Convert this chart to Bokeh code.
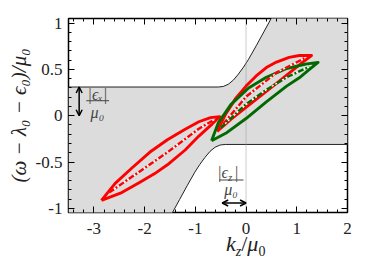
from bokeh.plotting import figure
from bokeh.models import Range1d, FixedTicker, LinearAxis, Label, Arrow, OpenHead, Div
from bokeh.layouts import column
from bokeh.embed import file_html
from bokeh.resources import INLINE

# ---------------- data ----------------
X_START, X_END = -3.5, 2.0
Y_START, Y_END = -1.045, 1.05

x_ticks = [-3, -2, -1, 0, 1, 2]
x_tick_labels = ["-3", "-2", "-1", "0", "1", "2"]
y_ticks = [-1, -0.5, 0, 0.5, 1]
y_tick_labels = ["-1", "-0.5", "0", "0.5", "1"]
x_minor = [round(-3.4 + 0.2 * i, 2) for i in range(28)]
y_minor = [round(-1.0 + 0.1 * i, 2) for i in range(21)]

# continuum boundaries
upper_k = [-3.5, -0.55, -0.45, -0.35, -0.25, -0.15, -0.05, 0.05, 0.2, 0.35, 0.5, 0.6]
upper_v = [0.31, 0.31, 0.316, 0.34, 0.385, 0.45, 0.525, 0.61, 0.755, 0.905, 1.055, 1.155]
lower_k = [-1.56, -1.46, -1.31, -1.16, -1.01, -0.91, -0.81, -0.71, -0.61, -0.51, -0.41, 2.0]
lower_v = [-1.155, -1.055, -0.905, -0.755, -0.61, -0.525, -0.45, -0.385, -0.34, -0.316, -0.31, -0.31]

# red loop A (lower left)
a_up_k = [-2.85, -2.58, -2.25, -1.9, -1.55, -1.2, -0.93, -0.7, -0.52]
a_up_v = [-0.915, -0.73, -0.565, -0.395, -0.26, -0.145, -0.065, -0.02, -0.01]
a_lo_k = [-2.85, -2.45, -2.1, -1.8, -1.55, -1.2, -0.93, -0.67, -0.52]
a_lo_v = [-0.915, -0.83, -0.72, -0.625, -0.53, -0.37, -0.22, -0.09, -0.01]
a_c_k = [-2.7, -2.25, -1.55, -0.93, -0.62]
a_c_v = [-0.83, -0.66, -0.395, -0.14, -0.04]

# red loop B (upper right)
b_up_k = [-0.57, -0.4, -0.2, 0.0, 0.2, 0.4, 0.6, 0.85, 1.05, 1.29]
b_up_v = [-0.17, 0.02, 0.19, 0.32, 0.43, 0.52, 0.58, 0.63, 0.65, 0.65]
b_lo_k = [-0.57, -0.3, 0.0, 0.3, 0.6, 0.85, 1.1, 1.29]
b_lo_v = [-0.17, -0.04, 0.09, 0.22, 0.35, 0.46, 0.57, 0.65]
b_c_k = [-0.45, 0.0, 0.6, 1.15]
b_c_v = [-0.09, 0.205, 0.465, 0.62]

# green loop
g_up_k = [-0.68, -0.55, -0.3, 0.05, 0.4, 0.8, 1.2, 1.42]
g_up_v = [-0.27, -0.08, 0.12, 0.3, 0.415, 0.51, 0.56, 0.575]
g_lo_k = [-0.68, -0.4, 0.0, 0.4, 0.8, 1.05, 1.25, 1.42]
g_lo_v = [-0.27, -0.19, -0.03, 0.15, 0.32, 0.41, 0.5, 0.575]
g_c_k = [-0.5, 0.0, 0.4, 0.8, 1.25]
g_c_v = [-0.13, 0.125, 0.28, 0.415, 0.53]

EPS_X = 0.31
EPS_Z_K = -0.47

RED = "#ff0000"
GREEN = "#006a00"
GREY_FILL = "#dcdcdc"
SERIF = "Liberation Serif"
TXT = "#222222"
ANN = "#444444"

# ---------------- figure ----------------
p = figure(width=366, height=242, x_range=Range1d(X_START, X_END),
           y_range=Range1d(Y_START, Y_END), output_backend="svg",
           toolbar_location=None, min_border_left=68, min_border_right=19,
           min_border_top=18, min_border_bottom=30)
p.grid.visible = False
p.outline_line_color = "black"
p.outline_line_width = 1.5

# shaded continuum
poly_x = upper_k + [X_END] + lower_k[::-1] + [X_START]
poly_y = upper_v + [upper_v[-1]] + lower_v[::-1] + [lower_v[0]]
p.patch(poly_x, poly_y, fill_color=GREY_FILL, line_color=None)
p.line(upper_k, upper_v, line_color="#222222", line_width=1)
p.line(lower_k, lower_v, line_color="#222222", line_width=1)

# dotted k=0 line
p.segment(x0=[0], y0=[Y_START], x1=[0], y1=[Y_END], line_color="#999999",
          line_dash="1 1", line_width=1)


def loop(up_k, up_v, lo_k, lo_v, color):
    xs = up_k + lo_k[::-1]
    ys = up_v + lo_v[::-1]
    p.line(xs, ys, line_color=color, line_width=2.9, line_join="round")


def center(ck, cv, color):
    p.line(ck, cv, line_color="white", line_width=1.3)
    p.line(ck, cv, line_color=color, line_width=2.4, line_dash="6 2 2 2")


loop(a_up_k, a_up_v, a_lo_k, a_lo_v, RED)
loop(b_up_k, b_up_v, b_lo_k, b_lo_v, RED)
loop(g_up_k, g_up_v, g_lo_k, g_lo_v, GREEN)
center(a_c_k, a_c_v, RED)
center(b_c_k, b_c_v, RED)
center(g_c_k, g_c_v, GREEN)


# ---------------- axes ----------------
def style(ax, ticks, minor, labels, show):
    ax.ticker = FixedTicker(ticks=ticks, minor_ticks=minor)
    ax.major_tick_in = 6
    ax.major_tick_out = 0
    ax.minor_tick_in = 3
    ax.minor_tick_out = 0
    ax.axis_line_color = None
    ax.major_tick_line_color = "black"
    ax.minor_tick_line_color = "black"
    if show:
        ax.major_label_overrides = {t: l for t, l in zip(ticks, labels)}
        ax.major_label_text_font = SERIF
        ax.major_label_text_font_size = "17px"
        ax.major_label_text_color = TXT
    else:
        ax.major_label_overrides = {t: "" for t in ticks}
        ax.major_label_standoff = 0


style(p.xaxis[0], x_ticks, x_minor, x_tick_labels, True)
style(p.yaxis[0], y_ticks, y_minor, y_tick_labels, True)
p.xaxis[0].major_label_standoff = 10
p.yaxis[0].major_label_standoff = 6
top = LinearAxis()
right = LinearAxis()
p.add_layout(top, "above")
p.add_layout(right, "right")
style(top, x_ticks, x_minor, x_tick_labels, False)
style(right, y_ticks, y_minor, y_tick_labels, False)

# y-axis title
p.yaxis[0].axis_label = "(ω − λ₀ − ϵ₀)/μ₀"
p.yaxis[0].axis_label_text_font = SERIF
p.yaxis[0].axis_label_text_font_style = "italic"
p.yaxis[0].axis_label_text_font_size = "21px"
p.yaxis[0].axis_label_text_color = TXT
p.yaxis[0].axis_label_standoff = 2

# annotations: |eps_x|/mu0
p.add_layout(Label(x=-2.93, y=0.234, text="|ϵₓ|", text_font=SERIF,
                   text_font_style="italic", text_font_size="16px", text_align="center",
                   text_baseline="middle", text_color=ANN))
p.segment(x0=[-3.15], y0=[0.162], x1=[-2.70], y1=[0.162], line_color=ANN, line_width=1)
p.add_layout(Label(x=-2.93, y=0.037, text="μ₀", text_font=SERIF,
                   text_font_style="italic", text_font_size="16px", text_align="center",
                   text_baseline="middle", text_color=ANN))
p.add_layout(Arrow(start=OpenHead(size=6, line_width=1.5), end=OpenHead(size=6, line_width=1.5),
                   x_start=-3.29, y_start=EPS_X, x_end=-3.29, y_end=0.0, line_width=1.5))

# annotations: |eps_z|/mu0
p.add_layout(Label(x=-0.296, y=-0.618, x_offset=-3, text="|ϵ", text_font=SERIF,
                   text_font_style="italic", text_font_size="16px", text_align="right",
                   text_baseline="middle", text_color=ANN))
p.add_layout(Label(x=-0.296, y=-0.618, x_offset=-3, y_offset=-4, text="z", text_font=SERIF,
                   text_font_style="italic", text_font_size="11px", text_align="left",
                   text_baseline="middle", text_color=ANN))
p.add_layout(Label(x=-0.296, y=-0.618, x_offset=4, text="|", text_font=SERIF,
                   text_font_size="16px", text_align="left",
                   text_baseline="middle", text_color=ANN))
p.segment(x0=[-0.53], y0=[-0.694], x1=[-0.05], y1=[-0.694], line_color=ANN, line_width=1)
p.add_layout(Label(x=-0.296, y=-0.80, text="μ₀", text_font=SERIF,
                   text_font_style="italic", text_font_size="16px", text_align="center",
                   text_baseline="middle", text_color=ANN))
p.add_layout(Arrow(start=OpenHead(size=6, line_width=1.5), end=OpenHead(size=6, line_width=1.5),
                   x_start=EPS_Z_K, y_start=-0.942, x_end=0.0, y_end=-0.942, line_width=1.5))

# x-axis title as HTML (subscripts)
xtitle = Div(
    text='<i>k</i><sub style="font-size:14px"><i>z</i></sub>/<i>μ</i><sub style="font-size:14px">0</sub>',
    styles={"font-family": "Liberation Serif", "font-size": "22px", "color": TXT,
            "line-height": "24px", "white-space": "nowrap"},
    width=80, height=24, margin=(-10, 0, 0, 226))

layout = column(p, xtitle)
open("out.html", "w").write(file_html(layout, INLINE))
